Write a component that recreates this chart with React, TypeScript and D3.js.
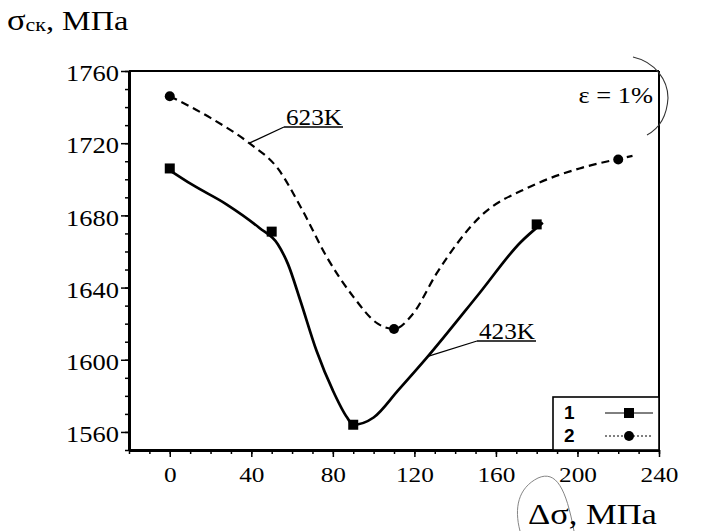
import React, { useEffect, useRef } from 'react';
import * as d3 from 'd3';

// measured points (squares = 423K, circles = 623K)
const series423: [number, number][] = [[0, 1706], [50, 1671], [90, 1564], [180, 1675]];
const series623: [number, number][] = [[0, 1746], [110, 1617], [220, 1711]];

// fitted curves
const fit423: [number, number][] = [
  [0, 1705], [11, 1697], [28, 1686], [44, 1673], [53, 1664], [58, 1653], [64, 1633],
  [72, 1605], [80, 1583], [87, 1568], [90, 1564], [100, 1568], [112, 1583], [126, 1601],
  [152, 1637], [172, 1665], [183, 1676],
];
const fit623: [number, number][] = [
  [0, 1746], [20, 1734], [39, 1720], [53, 1706], [65, 1683], [77, 1657], [90, 1635],
  [102, 1620], [110, 1617], [119, 1625], [131, 1648], [152, 1679], [177, 1696],
  [201, 1706], [219, 1711], [227, 1713],
];

const xTicks = [0, 40, 80, 120, 160, 200, 240];
const yTicks = [1560, 1600, 1640, 1680, 1720, 1760];
const legendLabels = ['1', '2'];
const curveLabels = ['423K', '623K'];

const App: React.FC = () => {
  const svgRef = useRef<SVGSVGElement>(null);

  useEffect(() => {
    if (!svgRef.current) return;
    const svg = d3.select(svgRef.current);
    svg.selectAll('*').remove();

    const serif = "'Times New Roman', 'Liberation Serif', 'DejaVu Serif', serif";
    const sans = "Arial, 'Liberation Sans', sans-serif";

    const x = d3.scaleLinear().domain([-20, 240]).range([129, 659]);
    const y = d3.scaleLinear().domain([1550, 1760]).range([450, 71]);

    // frame top/right
    svg.append('line').attr('x1', 129).attr('x2', 659).attr('y1', 71).attr('y2', 71)
      .attr('stroke', '#000').attr('stroke-width', 2);
    svg.append('line').attr('x1', 659).attr('x2', 659).attr('y1', 71).attr('y2', 450)
      .attr('stroke', '#000').attr('stroke-width', 2);

    // minor ticks
    svg.append('g').attr('transform', 'translate(129,0)')
      .call(d3.axisLeft(y).tickValues(d3.range(1550, 1761, 10)).tickSize(4).tickFormat(() => ''))
      .call(g => g.select('.domain').remove())
      .selectAll('line').attr('stroke-width', 1.5);
    svg.append('g').attr('transform', 'translate(0,450)')
      .call(d3.axisBottom(x).tickValues(d3.range(-20, 241, 10)).tickSize(4).tickFormat(() => ''))
      .call(g => g.select('.domain').remove())
      .selectAll('line').attr('stroke-width', 1.5);

    // Y axis
    const gy = svg.append('g').attr('transform', 'translate(129,0)')
      .call(d3.axisLeft(y).tickValues(yTicks).tickSize(8).tickPadding(2).tickSizeOuter(0).tickFormat(d3.format('d')));
    gy.attr('font-family', null).attr('font-size', null);
    gy.select('.domain').attr('stroke-width', 3);
    gy.selectAll('line').attr('stroke-width', 1.5);
    gy.selectAll('text').attr('fill', '#000').attr('dy', '0.42em').attr('class', 'stretch')
      .style('font-family', serif).style('font-size', '23px');

    // X axis
    const gx = svg.append('g').attr('transform', 'translate(0,450)')
      .call(d3.axisBottom(x).tickValues(xTicks).tickSize(7).tickPadding(9).tickSizeOuter(0).tickFormat(d3.format('d')));
    gx.attr('font-family', null).attr('font-size', null);
    gx.select('.domain').attr('stroke-width', 3);
    gx.selectAll('line').attr('stroke-width', 1.5);
    gx.selectAll('text').attr('fill', '#000').attr('class', 'stretch')
      .style('font-family', serif).style('font-size', '22px');

    // curves
    const line = d3.line<[number, number]>()
      .x(d => x(d[0])).y(d => y(d[1])).curve(d3.curveMonotoneX);
    svg.append('path').attr('d', line(fit423)).attr('fill', 'none')
      .attr('stroke', '#000').attr('stroke-width', 2.7);
    svg.append('path').attr('d', line(fit623)).attr('fill', 'none')
      .attr('stroke', '#000').attr('stroke-width', 2.2).attr('stroke-dasharray', '8,5');

    // markers
    svg.selectAll('.sq').data(series423).enter().append('rect')
      .attr('x', d => x(d[0]) - 5).attr('y', d => y(d[1]) - 5)
      .attr('width', 10).attr('height', 10).attr('fill', '#000');
    svg.selectAll('.ci').data(series623).enter().append('circle')
      .attr('cx', d => x(d[0])).attr('cy', d => y(d[1])).attr('r', 5).attr('fill', '#000');

    // curve labels with leaders
    const labels = [
      { text: curveLabels[0], anchor: [127, 1602], tx: 479, ty: 339 },
      { text: curveLabels[1], anchor: [39, 1720], tx: 286, ty: 125 },
    ];
    labels.forEach(l => {
      const ax = x(l.anchor[0]);
      const ay = y(l.anchor[1]);
      svg.append('line').attr('x1', ax).attr('y1', ay).attr('x2', l.tx - 2).attr('y2', l.ty + 2)
        .attr('stroke', '#000').attr('stroke-width', 1.3);
      svg.append('line').attr('x1', l.tx - 2).attr('y1', l.ty + 2).attr('x2', l.tx + 57).attr('y2', l.ty + 2)
        .attr('stroke', '#000').attr('stroke-width', 1.3);
      svg.append('text').attr('x', l.tx).attr('y', l.ty).text(l.text)
        .style('font-family', serif).style('font-size', '23px')
        .attr('textLength', 56).attr('lengthAdjust', 'spacingAndGlyphs');
    });

    // epsilon note
    svg.append('text').attr('x', 653).attr('y', 103).attr('text-anchor', 'end').attr('class', 'stretch')
      .style('font-family', serif).style('font-size', '23px').text('ε = 1%');

    // hand-drawn marks from the scan
    svg.append('path').attr('d', 'M633,57 C655,62 668,80 668,98 C667,115 660,128 647,135')
      .attr('fill', 'none').attr('stroke', '#333').attr('stroke-width', 1.1);
    svg.append('path').attr('d', 'M520,531 C514,508 518,488 538,478 C556,470 566,488 574,531')
      .attr('fill', 'none').attr('stroke', '#777').attr('stroke-width', 0.9);

    // legend
    const lg = svg.append('g');
    lg.append('rect').attr('x', 553).attr('y', 397).attr('width', 106).attr('height', 53)
      .attr('fill', '#fff').attr('stroke', '#000').attr('stroke-width', 1.6);
    legendLabels.forEach((lab, i) => {
      const ly = 413 + i * 23;
      lg.append('text').attr('x', 564).attr('y', ly + 6).text(lab)
        .style('font-family', sans).style('font-size', '19px').style('font-weight', 'bold');
      lg.append('line').attr('x1', 605).attr('x2', 653).attr('y1', ly).attr('y2', ly)
        .attr('stroke', '#000').attr('stroke-width', 1)
        .attr('stroke-dasharray', i === 0 ? null : '2,2');
      if (i === 0) {
        lg.append('rect').attr('x', 624).attr('y', ly - 5).attr('width', 10).attr('height', 10).attr('fill', '#000');
      } else {
        lg.append('circle').attr('cx', 629).attr('cy', ly).attr('r', 5).attr('fill', '#000');
      }
    });

    // axis titles
    const t = svg.append('text').attr('x', 7).attr('y', 30).attr('class', 'stretch')
      .style('font-family', serif).style('font-size', '28px');
    t.append('tspan').style('font-size', '30px').text('σ');
    t.append('tspan').attr('dy', 1).style('font-size', '19px').text('ск');
    t.append('tspan').attr('dy', -1).text(', МПа');

    svg.append('text').attr('x', 528).attr('y', 524).attr('class', 'stretch')
      .style('font-family', serif).style('font-size', '30px').text('Δσ, МПа');

    // the scanned figure is widened horizontally (~15%)
    svg.selectAll<SVGTextElement, unknown>('text.stretch').each(function () {
      const w = this.getComputedTextLength();
      if (w > 0) {
        d3.select(this).attr('textLength', w * 1.15).attr('lengthAdjust', 'spacingAndGlyphs');
      }
    });
  }, []);

  return (
    <svg ref={svgRef} width={701} height={531}
      style={{ position: 'absolute', left: 0, top: 0, background: '#fff', fontFamily: 'serif' }} />
  );
};

export default App;
